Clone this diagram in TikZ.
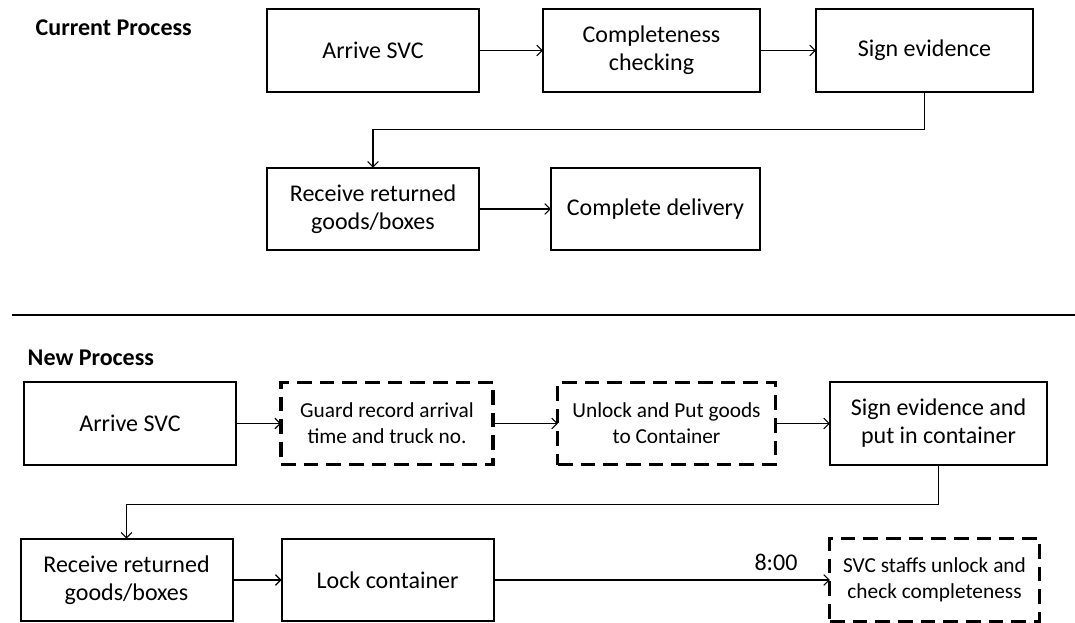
\documentclass[tikz,border=0pt]{standalone}
\usepackage{fontspec}
\setmainfont{Carlito}
\usetikzlibrary{arrows.meta, calc}

\tikzset{
  box/.style={draw, line width=1.5pt, minimum width=159pt, minimum height=62pt,
    inner sep=0pt, outer sep=0pt, align=center, font=\fontsize{18}{21}\selectfont},
  dbox/.style={box, dash pattern=on 11pt off 6pt, line width=2.4pt,
    font=\fontsize{16}{19.5}\selectfont},
  flow/.style={line width=0.8pt, -{Straight Barb[length=4pt, width=8pt]}},
  head/.style={font=\bfseries\fontsize{18}{21}\selectfont, anchor=west}
}

\begin{document}
\begin{tikzpicture}[x=0.75pt, y=-0.75pt]
  \useasboundingbox (0,0) rectangle (1075,623);

  % Current process
  \node (T1) at (31, 28) [head] {Current Process};
  \node (A1) at (373, 50.5) [box] {Arrive SVC};
  \node (A2) at (651.5, 50.5) [box, minimum width=163pt] {Completeness\\checking};
  \node (A3) at (924.5, 50.5) [box, minimum width=163pt] {Sign evidence};
  \node (B1) at (373, 209) [box] {Receive returned\\goods/boxes};
  \node (B2) at (655.5, 209) [box, minimum width=157pt] {Complete delivery};

  \draw[flow] (A1) -- (A2);
  \draw[flow] (A2) -- (A3);
  \draw[flow] (A3.south) -- ++(0, 38) -| (B1.north);
  \draw[flow] (B1) -- (B2);

  % Separator
  \draw[line width=2.2pt] (12, 315) -- (1075, 315);

  % New process
  \node (T2) at (23, 358) [head] {New Process};
  \node (C1) at (130, 423.5) [box] {Arrive SVC};
  \node (C2) at (387, 423.5) [dbox] {Guard record arrival\\time and truck no.};
  \node (C3) at (666.5, 423.5) [dbox, minimum width=163pt] {Unlock and Put goods\\to Container};
  \node (C4) at (938.5, 423.5) [box, minimum width=163pt] {Sign evidence and\\put in container};
  \node (D1) at (126.5, 580) [box] {Receive returned\\goods/boxes};
  \node (D2) at (387.5, 580) [box] {Lock container};
  \node (D3) at (934.5, 580) [dbox, minimum width=157pt] {SVC staffs unlock and\\check completeness};

  \draw[flow] (C1) -- (C2);
  \draw[flow] (C2) -- (C3);
  \draw[flow] (C3) -- (C4);
  \draw[flow] (C4.south) -- ++(0, 40) -| (D1.north);
  \draw[flow] (D1) -- (D2);
  \draw[flow] (D2) -- node[pos=0.84, above=3pt, font=\fontsize{18}{21}\selectfont] {8:00} (D3);
\end{tikzpicture}
\end{document}
